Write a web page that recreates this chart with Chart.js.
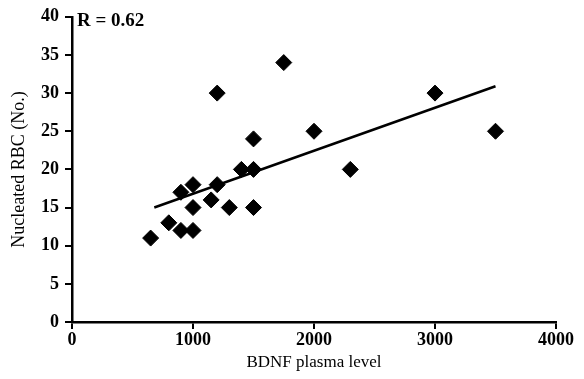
<!DOCTYPE html>
<html>
<head>
<meta charset="utf-8">
<script src="https://cdn.jsdelivr.net/npm/chart.js@4/dist/chart.umd.min.js"></script>
<style>
  html, body { margin: 0; padding: 0; background: #fff; }
  #wrap { width: 584px; height: 379px; }
</style>
</head>
<body>
<div id="wrap"><canvas id="scatter-chart"></canvas></div>
<script>
const bdnfLevel = [650, 800, 900, 900, 1000, 1000, 1000, 1150, 1200, 1200, 1300, 1400, 1500, 1500, 1500, 1750, 2000, 2300, 3000, 3500];
const nucleatedRbc = [11, 13, 12, 17, 12, 15, 18, 16, 18, 30, 15, 20, 15, 20, 24, 34, 25, 20, 30, 25];
const fitX = [680, 3500];
const fitY = [15, 30.9];
const xTicks = [0, 1000, 2000, 3000, 4000];
const yTicks = [0, 5, 10, 15, 20, 25, 30, 35, 40];
const rLabel = "R = 0.62";

const serif = "'Liberation Serif', 'DejaVu Serif', serif";
const tickFont = { family: serif, size: 18, weight: "bold" };

const rText = {
  id: "rText",
  afterDraw(chart) {
    const { ctx, chartArea } = chart;
    ctx.save();
    ctx.fillStyle = "#000";
    ctx.font = "bold 19px " + serif;
    ctx.textBaseline = "middle";
    ctx.fillText(rLabel, chartArea.left + 5, chartArea.top + 4);
    ctx.restore();
  },
};

new Chart(document.getElementById("scatter-chart"), {
  type: "scatter",
  data: {
    datasets: [
      {
        label: "data",
        data: bdnfLevel.map((x, i) => ({ x: x, y: nucleatedRbc[i] })),
        pointStyle: "rectRot",
        pointRadius: 8,
        pointHoverRadius: 8,
        backgroundColor: "#000",
        borderColor: "#000",
        borderWidth: 1,
      },
      {
        label: "fit",
        data: fitX.map((x, i) => ({ x: x, y: fitY[i] })),
        showLine: true,
        pointRadius: 0,
        borderColor: "#000",
        borderWidth: 2.5,
      },
    ],
  },
  options: {
    responsive: true,
    maintainAspectRatio: false,
    animation: false,
    layout: { padding: { top: 16, right: 28, left: 0, bottom: 0 } },
    plugins: { legend: { display: false }, tooltip: { enabled: false } },
    scales: {
      x: {
        type: "linear",
        min: 0,
        max: 4000,
        afterBuildTicks: (axis) => { axis.ticks = xTicks.map((v) => ({ value: v })); },
        afterFit: (axis) => { axis.height = 57; },
        border: { display: true, color: "#000", width: 2.5 },
        grid: { drawOnChartArea: false, drawTicks: true, tickLength: 7, color: "#000", lineWidth: 2 },
        ticks: { color: "#000", font: tickFont, padding: 1, maxRotation: 0, callback: (v) => String(v) },
        title: { display: true, text: "BDNF plasma level", color: "#000", font: { family: serif, size: 17 }, padding: { top: 0, bottom: 6 } },
      },
      y: {
        type: "linear",
        min: 0,
        max: 40,
        afterBuildTicks: (axis) => { axis.ticks = yTicks.map((v) => ({ value: v })); },
        afterFit: (axis) => { axis.width = 72; },
        border: { display: true, color: "#000", width: 2.5 },
        grid: { drawOnChartArea: false, drawTicks: true, tickLength: 7, color: "#000", lineWidth: 2 },
        ticks: { color: "#000", font: tickFont, padding: 6, callback: (v) => String(v) },
        title: { display: true, text: "Nucleated RBC (No.)", color: "#000", font: { family: serif, size: 18 }, padding: { top: 8, bottom: 2 } },
      },
    },
  },
  plugins: [rText],
});
</script>
</body>
</html>
